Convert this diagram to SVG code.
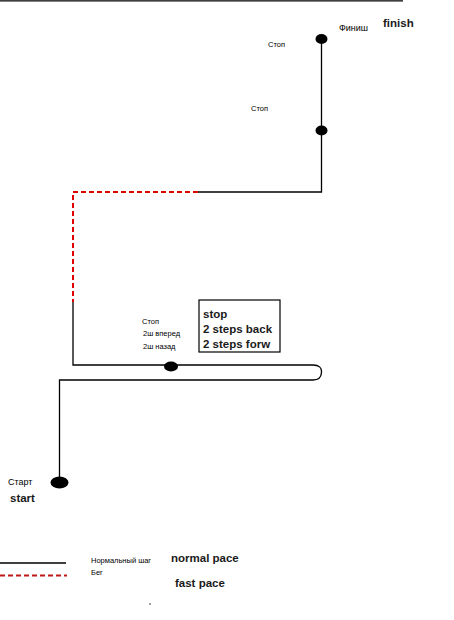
<svg xmlns="http://www.w3.org/2000/svg" width="454" height="620" viewBox="0 0 454 620">
<style>
.ln{fill:none;stroke:#000;stroke-width:1.3}
.rd{fill:none;stroke:#e00000;stroke-width:2;stroke-dasharray:5,3}
.rd2{stroke:#c01818}
.dot{fill:#000}
.sm{font-family:"Liberation Sans",Arial,sans-serif;font-size:7.5px;fill:#000}
.md{font-family:"Liberation Sans",Arial,sans-serif;font-size:9px;fill:#000}
.en{font-family:"Liberation Sans",Arial,sans-serif;font-size:11.5px;font-weight:bold;fill:#1a1a1a}
</style>
<g id="connectors">
<line class="ln" x1="0" y1="0.8" x2="403" y2="0.8"/>
<polyline class="ln" points="321.5,39 321.5,192 198,192"/>
<polyline class="rd" points="198,192 73,192 73,302"/>
<path class="ln" d="M73,302 V365 H313 Q322,365 321.5,372.5 Q321,380 313,380 H59.5 V482"/>
<line class="ln" x1="0" y1="563" x2="66" y2="563"/>
<line class="rd rd2" x1="0" y1="575.5" x2="67" y2="575.5"/>
</g>
<g id="finish">
<ellipse class="dot" cx="321.5" cy="39" rx="6" ry="5"/>
<text class="md" x="339" y="31">Финиш</text>
<text class="en" x="383" y="27">finish</text>
<text class="sm" x="268" y="47">Стоп</text>
</g>
<g id="stop1">
<ellipse class="dot" cx="321.5" cy="130.5" rx="6" ry="5"/>
<text class="sm" x="251" y="111">Стоп</text>
</g>
<g id="stop2">
<ellipse class="dot" cx="171" cy="366.5" rx="7" ry="5"/>
<text class="sm" x="142" y="324">Стоп</text>
<text class="sm" x="143" y="336">2ш вперед</text>
<text class="sm" x="143" y="349">2ш назад</text>
</g>
<g id="note">
<rect x="199" y="300" width="81" height="52" fill="#fff" stroke="#000" stroke-width="1.2"/>
<text class="en" x="203" y="318">stop</text>
<text class="en" x="203" y="333">2 steps back</text>
<text class="en" x="203" y="348">2 steps forw</text>
</g>
<g id="start">
<ellipse class="dot" cx="59.5" cy="482.5" rx="9" ry="6"/>
<text class="md" x="8" y="485">Старт</text>
<text class="en" x="10" y="502">start</text>
</g>
<g id="legend">
<text class="sm" x="91" y="563">Нормальный шаг</text>
<text class="sm" x="91" y="575">Бег</text>
<text class="en" x="171" y="562">normal pace</text>
<text class="en" x="175" y="587">fast pace</text>
<circle class="dot" cx="150" cy="604" r="0.7"/>
</g>
</svg>
